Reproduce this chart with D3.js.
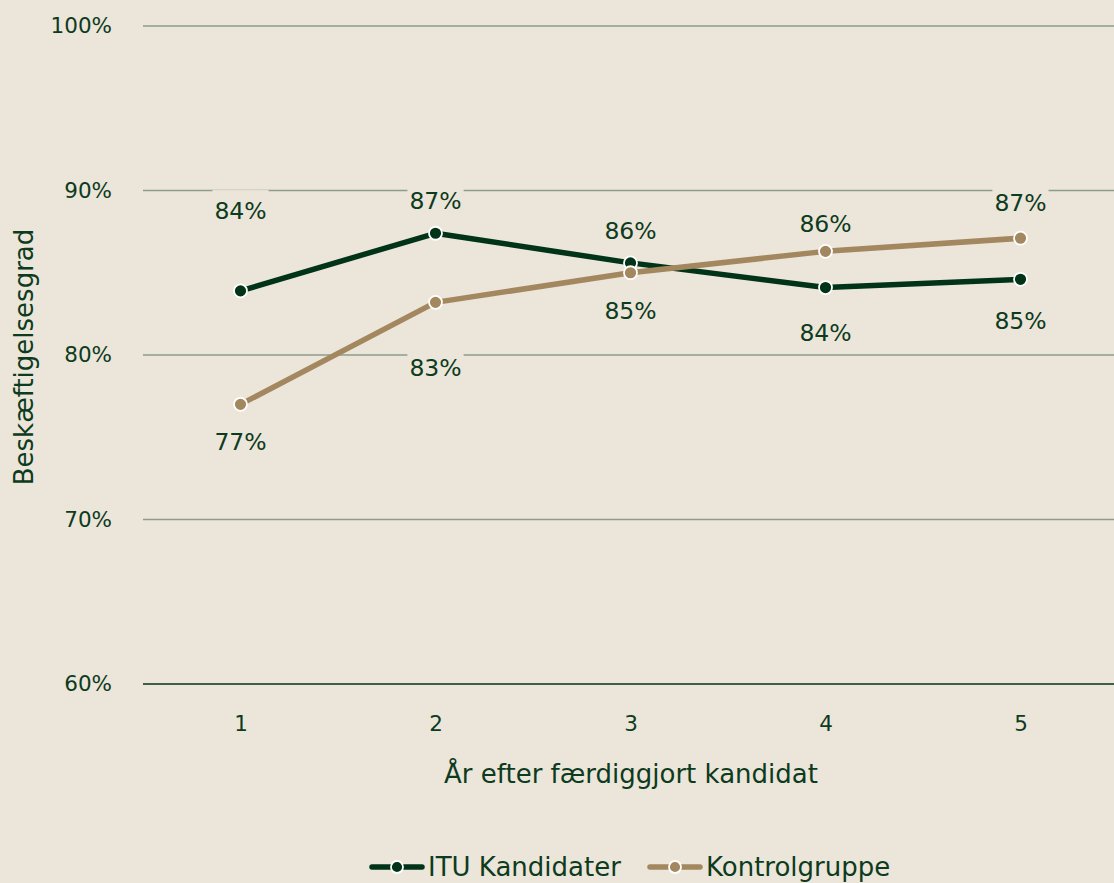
<!DOCTYPE html>
<html>
<head>
<meta charset="utf-8">
<script src="https://cdn.jsdelivr.net/npm/d3@7"></script>
<style>
  body { margin: 0; background: #ece5da; }
  svg { display: block; font-family: "DejaVu Sans", sans-serif; }
</style>
</head>
<body>
<svg id="chart"></svg>
<script>
const years = [1, 2, 3, 4, 5];
const itu = [83.9, 87.4, 85.6, 84.1, 84.6];
const kontrol = [77.0, 83.2, 85.0, 86.3, 87.1];
const ituLabels = ['84%', '87%', '86%', '84%', '85%'];
const kontrolLabels = ['77%', '83%', '85%', '86%', '87%'];
const yTicks = [60, 70, 80, 90, 100];

// label offsets (px from the point)
const ituLabelDy = [-80, -33, -32, 45, 41];
const kontrolLabelDy = [37, 65, 38, -28, -35];

const W = 1114, H = 883;
const bg = '#ece5da', textColor = '#0d3b20';
const ituColor = '#003318', kontrolColor = '#a3875f';

const svg = d3.select('#chart').attr('width', W).attr('height', H);

const x = d3.scalePoint().domain(years).range([143, 1118]).padding(0.5);
const y = d3.scaleLinear().domain([60, 100]).range([684, 26]);

// grid
const grid = svg.append('g');
grid.selectAll('line').data(yTicks).enter().append('line')
  .attr('x1', 143).attr('x2', W)
  .attr('y1', d => y(d)).attr('y2', d => y(d))
  .attr('stroke', d => d === 60 ? '#3f5e47' : '#8d9e88')
  .attr('stroke-width', d => d === 60 ? 2 : 1.5);

// y axis tick labels
const yAxis = svg.append('g').attr('transform', 'translate(112,0)')
  .call(d3.axisLeft(y).tickValues(yTicks).tickFormat(d => d + '%').tickSize(0).tickPadding(0));
yAxis.select('.domain').remove();
yAxis.selectAll('text').attr('fill', textColor).style('font-size', '21.5px').style('font-family', '"DejaVu Sans"');

// x axis tick labels
const xAxis = svg.append('g').attr('transform', 'translate(0,716)')
  .call(d3.axisBottom(x).tickSize(0).tickPadding(0));
xAxis.select('.domain').remove();
xAxis.selectAll('text').attr('fill', textColor).style('font-size', '21.5px').style('font-family', '"DejaVu Sans"');

// axis titles
svg.append('text').attr('x', 631).attr('y', 783).attr('text-anchor', 'middle')
  .attr('fill', textColor).style('font-size', '26px').text('År efter færdiggjort kandidat');
svg.append('text').attr('transform', 'translate(33,357) rotate(-90)').attr('text-anchor', 'middle')
  .attr('fill', textColor).style('font-size', '26px').text('Beskæftigelsesgrad');

const series = [
  { values: itu, color: ituColor, labels: ituLabels, dy: ituLabelDy },
  { values: kontrol, color: kontrolColor, labels: kontrolLabels, dy: kontrolLabelDy }
];

const line = d3.line().x((d, i) => x(years[i])).y(d => y(d));

// lines and points
series.forEach(s => {
  svg.append('path').datum(s.values).attr('d', line)
    .attr('fill', 'none').attr('stroke', s.color).attr('stroke-width', 5.5)
    .attr('stroke-linejoin', 'round');
});
series.forEach(s => {
  svg.append('g').selectAll('circle').data(s.values).enter().append('circle')
    .attr('cx', (d, i) => x(years[i])).attr('cy', d => y(d)).attr('r', 6.5)
    .attr('fill', s.color).attr('stroke', '#fff').attr('stroke-width', 1.8);
});

// data labels with background boxes
series.forEach(s => {
  const g = svg.append('g').selectAll('g').data(s.values).enter().append('g')
    .attr('transform', (d, i) => `translate(${x(years[i])},${y(d) + s.dy[i]})`);
  const t = g.append('text').attr('text-anchor', 'middle').attr('dy', '0.35em')
    .attr('fill', textColor).style('font-size', '23.5px')
    .text((d, i) => s.labels[i]);
  t.each(function () {
    const b = this.getBBox();
    d3.select(this.parentNode).insert('rect', 'text')
      .attr('x', b.x - 2).attr('y', b.y - 7)
      .attr('width', b.width + 4).attr('height', b.height + 11)
      .attr('fill', bg);
  });
});

// legend
const legend = [
  { name: 'ITU Kandidater', color: ituColor, x: 370 },
  { name: 'Kontrolgruppe', color: kontrolColor, x: 648 }
];
const lg = svg.append('g').selectAll('g').data(legend).enter().append('g')
  .attr('transform', d => `translate(${d.x},867)`);
lg.append('line').attr('x1', 2).attr('x2', 52).attr('stroke', d => d.color)
  .attr('stroke-width', 5.5).attr('stroke-linecap', 'round');
lg.append('circle').attr('cx', 27).attr('r', 6).attr('fill', d => d.color)
  .attr('stroke', '#fff').attr('stroke-width', 1.8);
lg.append('text').attr('x', 58).attr('dy', '0.35em').attr('fill', textColor)
  .style('font-size', '26px').text(d => d.name);
</script>
</body>
</html>
